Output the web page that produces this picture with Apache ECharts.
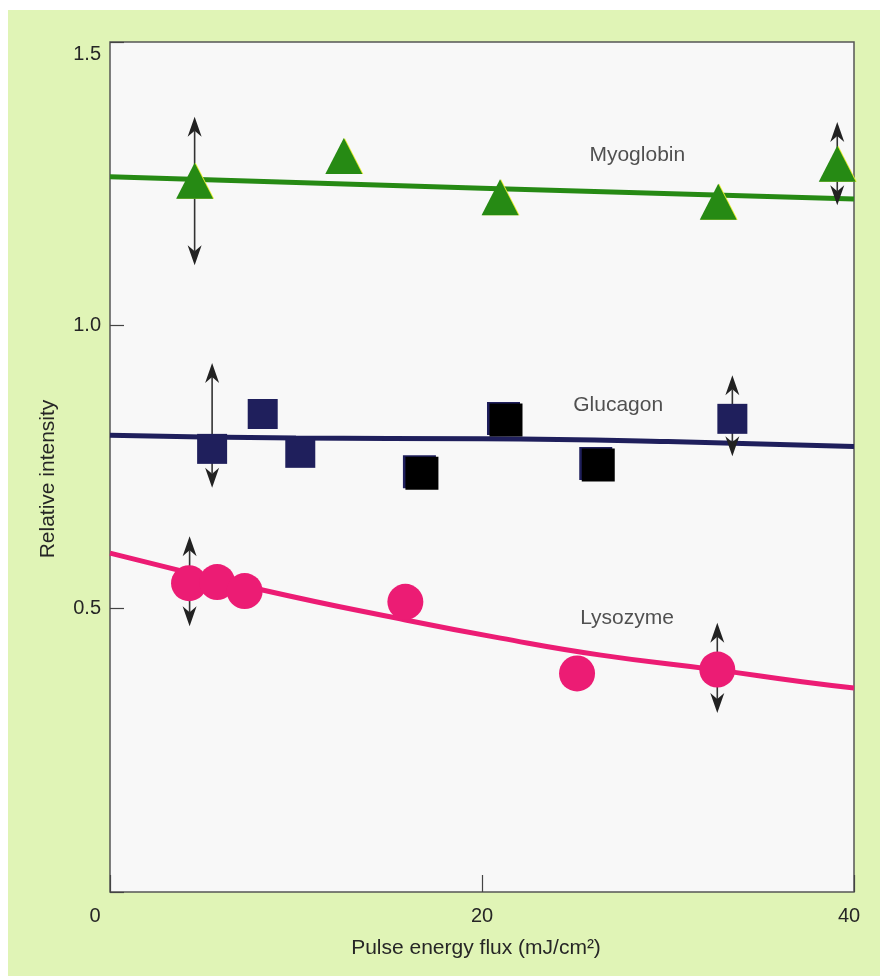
<!DOCTYPE html>
<html>
<head>
<meta charset="utf-8">
<script src="https://cdn.jsdelivr.net/npm/echarts@6/dist/echarts.min.js"></script>
<style>
  html, body { margin: 0; padding: 0; background: #fff; }
  #panel { position: absolute; left: 8px; top: 10px; width: 872px; height: 966px; background: #e0f4b6; }
  #main { position: absolute; left: 0; top: 0; width: 880px; height: 976px; }
</style>
</head>
<body>
<div id="panel"></div>
<div id="main"></div>
<script>
// Myoglobin (triangles)
const myoX = [4.55, 12.57, 20.97, 32.7, 39.1];
const myoY = [1.255, 1.299, 1.226, 1.218, 1.285];
const myoFitX = [0, 20, 40];
const myoFitY = [1.262, 1.242, 1.223];
const myoArrows = [[4.55, 1.106, 1.368], [39.1, 1.212, 1.359]];

// Glucagon (squares); some printed black
const gluX = [5.49, 8.21, 10.23, 16.77, 21.29, 26.25, 33.46];
const gluY = [0.782, 0.8435, 0.775, 0.739, 0.833, 0.7535, 0.835];
const gluBlack = [false, false, false, true, true, true, false];
const gluFitX = [0, 10, 20, 30, 40];
const gluFitY = [0.806, 0.801, 0.8, 0.795, 0.786];
const gluArrows = [[5.49, 0.7135, 0.9335], [33.46, 0.769, 0.912]];

// Lysozyme (circles)
const lysX = [4.25, 5.76, 7.24, 15.88, 25.11, 32.65];
const lysY = [0.545, 0.547, 0.531, 0.512, 0.3856, 0.3926];
const lysFitX = [0, 8.2, 15.6, 21.0, 26.4, 32.6, 37.2, 40];
const lysFitY = [0.598, 0.533, 0.482, 0.448, 0.418, 0.392, 0.371, 0.36];
const lysArrows = [[4.28, 0.469, 0.628], [32.65, 0.316, 0.475]];

// series labels
const labelNames = ['Myoglobin', 'Glucagon', 'Lysozyme'];
const labelX = [28.35, 27.32, 27.8];
const labelY = [1.30, 0.859, 0.4835];

const FONT = '"Liberation Sans", Arial, sans-serif';
const TEXT = '#262626';
const GREEN = '#268a14', NAVY = '#1f1f5c', PINK = '#ec1c74';

const zip = (xs, ys) => xs.map((x, i) => [x, ys[i]]);

const chart = echarts.init(document.getElementById('main'), null, { renderer: 'canvas' });

function arrowItem(params, api) {
  const x = api.value(0);
  const lo = api.coord([x, api.value(1)]);
  const hi = api.coord([x, api.value(2)]);
  const w = 7, len = 20, notch = 14;
  const style = { fill: '#222', stroke: '#222', lineWidth: 0 };
  return {
    type: 'group',
    children: [
      { type: 'line', shape: { x1: hi[0], y1: hi[1] + notch, x2: lo[0], y2: lo[1] - notch }, style: { stroke: '#333', lineWidth: 1.6 } },
      { type: 'polygon', shape: { points: [[hi[0], hi[1]], [hi[0] + w, hi[1] + len], [hi[0], hi[1] + notch], [hi[0] - w, hi[1] + len]] }, style: style },
      { type: 'polygon', shape: { points: [[lo[0], lo[1]], [lo[0] + w, lo[1] - len], [lo[0], lo[1] - notch], [lo[0] - w, lo[1] - len]] }, style: style }
    ]
  };
}

const fitLine = (name, xs, ys, color) => ({
  name: name, type: 'line', data: zip(xs, ys), smooth: true, showSymbol: false,
  lineStyle: { color: color, width: 5 }, z: 2, silent: true
});

const option = {
  backgroundColor: 'transparent',
  animation: false,
  textStyle: { fontFamily: FONT },
  grid: {
    left: 110, top: 42, width: 744, height: 850,
    show: true, backgroundColor: '#f8f8f8', borderColor: '#555', borderWidth: 1.5
  },
  xAxis: {
    type: 'value', min: 0, max: 40, interval: 20,
    name: 'Pulse energy flux (mJ/cm²)', nameLocation: 'middle', nameGap: 46,
    nameTextStyle: { fontSize: 21, color: TEXT, fontFamily: FONT, padding: [0, 12, 0, 0] },
    axisLine: { show: false },
    splitLine: { show: false },
    axisTick: { show: true, inside: true, length: 17, lineStyle: { color: '#444', width: 1.2 } },
    axisLabel: {
      margin: 14, fontSize: 20, color: TEXT, fontFamily: FONT,
      formatter: v => v === 0 ? '{z|0}' : (v === 40 ? '{f|40}' : String(v)),
      rich: {
        z: { fontSize: 20, color: TEXT, fontFamily: FONT, padding: [0, 30, 0, 0] },
        f: { fontSize: 20, color: TEXT, fontFamily: FONT, padding: [0, 10, 0, 0] }
      }
    }
  },
  yAxis: {
    type: 'value', min: 0, max: 1.5, interval: 0.5,
    name: 'Relative intensity', nameLocation: 'middle', nameGap: 51,
    nameTextStyle: { fontSize: 21, color: TEXT, fontFamily: FONT, padding: [0, 24, 0, 0] },
    axisLine: { show: false },
    splitLine: { show: false },
    axisTick: { show: true, inside: true, length: 14, lineStyle: { color: '#444', width: 1.2 } },
    axisLabel: {
      margin: 9, fontSize: 20, color: TEXT, fontFamily: FONT,
      formatter: v => v === 0 ? '' : (v === 1.5 ? '{t|1.5}' : v.toFixed(1)),
      rich: { t: { fontSize: 20, color: TEXT, fontFamily: FONT, padding: [24, 0, 0, 0] } }
    }
  },
  series: [
    fitLine('Myoglobin fit', myoFitX, myoFitY, GREEN),
    fitLine('Glucagon fit', gluFitX, gluFitY, NAVY),
    fitLine('Lysozyme fit', lysFitX, lysFitY, PINK),
    {
      name: 'arrows', type: 'custom', renderItem: arrowItem, z: 3, silent: true,
      data: myoArrows.concat(gluArrows, lysArrows)
    },
    {
      name: 'Myoglobin', type: 'scatter', symbol: 'triangle', symbolSize: [37, 36], z: 5,
      data: zip(myoX, myoY),
      itemStyle: { color: GREEN, opacity: 1, shadowColor: '#e8ee30', shadowOffsetX: 1, shadowBlur: 0 }
    },
    {
      name: 'Glucagon', type: 'scatter', symbol: 'rect', z: 5,
      data: gluX.map((x, i) => gluBlack[i]
        ? { value: [x, gluY[i]], symbolSize: 33, itemStyle: { color: '#000', shadowColor: NAVY, shadowOffsetX: -2.5, shadowOffsetY: -1.5, shadowBlur: 0 } }
        : { value: [x, gluY[i]], symbolSize: 30, itemStyle: { color: NAVY } }),
      itemStyle: { opacity: 1 }
    },
    {
      name: 'Lysozyme', type: 'scatter', symbol: 'circle', symbolSize: 36, z: 5,
      data: zip(lysX, lysY),
      itemStyle: { color: PINK, opacity: 1 }
    },
    {
      name: 'labels', type: 'scatter', symbolSize: 0, z: 6, silent: true,
      data: labelNames.map((n, i) => ({ name: n, value: [labelX[i], labelY[i]] })),
      label: {
        show: true, position: 'inside', formatter: p => p.name,
        fontSize: 21, color: TEXT, fontFamily: FONT
      }
    }
  ]
};

chart.setOption(option);
</script>
</body>
</html>
